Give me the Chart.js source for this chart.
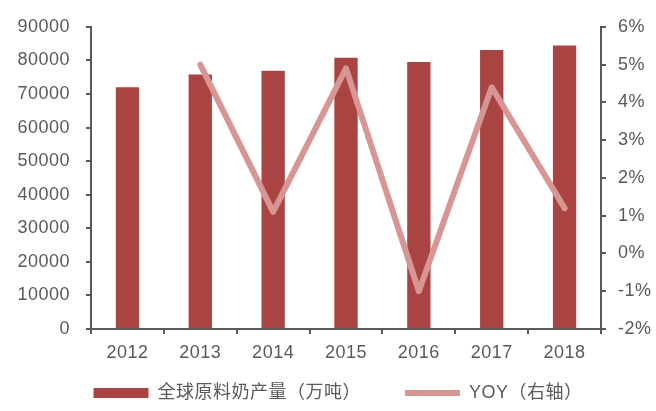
<!DOCTYPE html>
<html>
<head>
<meta charset="utf-8">
<script src="https://cdn.jsdelivr.net/npm/chart.js@4/dist/chart.umd.min.js"></script>
<style>
  html, body { margin: 0; padding: 0; background: #fff; }
  #wrap { width: 656px; height: 411px; }
</style>
</head>
<body>
<div id="wrap"><canvas id="milkChart"></canvas></div>
<script>
// 年份
const years = ['2012', '2013', '2014', '2015', '2016', '2017', '2018'];
// 全球原料奶产量（万吨）
const output = [72000, 75800, 76900, 80800, 79500, 83100, 84400];
// YOY (%)
const yoy = [null, 5.0, 1.1, 4.9, -1.0, 4.4, 1.2];

const axisGrey = '#595959';
const barRed = 'rgb(170, 68, 66)';
const linePink = 'rgb(215, 150, 148)';

// 字间距，Excel 风格
const spacingPlugin = {
    id: 'letterSpacing',
    beforeUpdate(chart) { chart.ctx.letterSpacing = '0.5px'; },
    beforeDraw(chart) { chart.ctx.letterSpacing = '0.5px'; }
};

// x 轴高度压小了，让标签不被裁掉
const xLabelArea = {
    id: 'xLabelArea',
    afterLayout(chart) { chart.scales.x.bottom = chart.height; }
};

Chart.defaults.font.family = '"Liberation Sans", Arial, "Noto Sans CJK SC", sans-serif';
Chart.defaults.font.size = 18;
Chart.defaults.color = axisGrey;

const legendGap = 44;

const ctx = document.getElementById('milkChart').getContext('2d');
new Chart(ctx, {
    data: {
        labels: years,
        datasets: [
            {
                type: 'line',
                label: 'YOY（右轴）',
                data: yoy,
                yAxisID: 'y2',
                borderColor: linePink,
                backgroundColor: linePink,
                borderWidth: 6,
                borderCapStyle: 'round',
                borderJoinStyle: 'round',
                pointRadius: 0,
                pointStyle: 'line',
                tension: 0,
                order: 0
            },
            {
                type: 'bar',
                label: '全球原料奶产量（万吨）',
                data: output,
                yAxisID: 'y',
                backgroundColor: barRed,
                borderWidth: 0,
                pointStyle: 'rect',
                barPercentage: 0.32,
                categoryPercentage: 1,
                order: 1
            }
        ]
    },
    options: {
        responsive: true,
        maintainAspectRatio: false,
        animation: false,
        layout: {
            padding: { top: 14, right: -8, left: 12, bottom: -1 }
        },
        plugins: {
            tooltip: { enabled: false },
            legend: {
                position: 'bottom',
                reverse: true,
                labels: {
                    usePointStyle: true,
                    pointStyleWidth: 55,
                    boxWidth: 55,
                    boxHeight: 10,
                    padding: legendGap,
                    color: axisGrey,
                    font: { size: 18 }
                }
            }
        },
        scales: {
            x: {
                offset: true,
                afterFit: (scale) => { scale.height = Math.max(1, 55 - legendGap); },
                border: { color: axisGrey, width: 2 },
                grid: {
                    offset: true,
                    drawOnChartArea: false,
                    drawTicks: true,
                    tickLength: 5,
                    color: axisGrey,
                    lineWidth: 2
                },
                ticks: { padding: 8, color: axisGrey, maxRotation: 0 }
            },
            y: {
                position: 'left',
                min: 0,
                max: 90000,
                afterFit: (scale) => { scale.width = 79; },
                border: { color: axisGrey, width: 2 },
                grid: {
                    drawOnChartArea: false,
                    tickLength: 5,
                    color: axisGrey,
                    lineWidth: 2
                },
                ticks: {
                    stepSize: 10000,
                    padding: 16,
                    color: axisGrey,
                    callback: (v) => String(v)
                }
            },
            y2: {
                position: 'right',
                min: -2,
                max: 6,
                afterFit: (scale) => { scale.width = 63; },
                border: { color: axisGrey, width: 2 },
                grid: {
                    drawOnChartArea: false,
                    tickLength: 5,
                    color: axisGrey,
                    lineWidth: 2
                },
                ticks: {
                    stepSize: 1,
                    padding: 12,
                    color: axisGrey,
                    callback: (v) => v + '%'
                }
            }
        }
    },
    plugins: [spacingPlugin, xLabelArea]
});
</script>
</body>
</html>
